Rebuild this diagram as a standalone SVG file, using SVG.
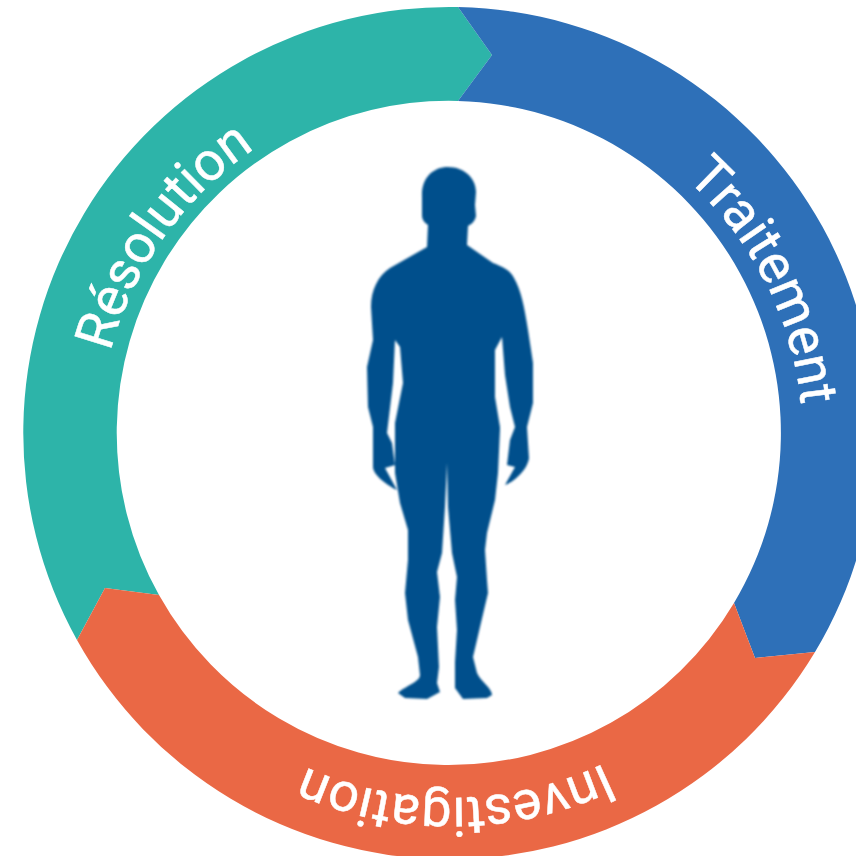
<svg xmlns="http://www.w3.org/2000/svg" width="856" height="856" viewBox="0 0 856 856">
<style>
.lbl{font-family:"Roboto","Liberation Sans",sans-serif;font-size:54px;font-weight:400;fill:#fff;stroke:#fff;stroke-width:.5;text-anchor:middle}
</style>
<defs>
<path id="arc" d="M99 441A352 352 0 0 1 803 441"/>
<path id="arcb" d="M94 441A357 357 0 0 1 808 441"/>
<filter id="soft" x="-5%" y="-5%" width="110%" height="110%"><feGaussianBlur stdDeviation="0.8"/></filter>
</defs>
<rect width="856" height="856" fill="#fff"/>
<g id="resolution">
<path fill="#2db4a9" d="M77 640A426 426 0 0 1 458 7L492 55L458 101A332 332 0 0 0 159 595L105 588Z"/>
<text class="lbl" transform="rotate(-54.6 451 441)"><textPath href="#arc" startOffset="50%">Résolution</textPath></text>
</g>
<g id="traitement">
<path fill="#2e70b8" d="M458 7A426 426 0 0 1 815 652L755 658L734 603A332 332 0 0 0 458 101L492 55Z"/>
<text class="lbl" transform="rotate(63 451 441)"><textPath href="#arc" startOffset="50%">Traitement</textPath></text>
</g>
<g id="investigation">
<path fill="#ea6845" d="M815 652A426 426 0 0 1 77 640L105 588L159 595A332 332 0 0 0 734 603L755 658Z"/>
<text class="lbl" transform="rotate(179.3 451 441)"><textPath href="#arcb" startOffset="50%">Investigation</textPath></text>
</g>
<g id="figure">
<path fill="#03508c" filter="url(#soft)" d="M448 167C464 167 476 178 476 192L475 205L476 216C475 222 470 225 468 226L467 245L493 263C503 267 510 270 514 278C521 290 524 305 528 330L533 363L533 403L527 427L528 443L529 458C528 468 516 481 505 485L515 467L507 465L510 440L515 427L510 407L505 375L502 337L495 350L495 397L500 427L500 430L498 473L495 500L487 533L485 550L487 580L488 593L480 627L473 657L477 673C481 682 492 688 492 695L487 698L463 699L455 688L455 662L457 630L455 600L457 577L452 553L448 507L447 463L445 507L442 553L437 572L440 597L437 627L439 667L437 683L440 692L427 699L405 698L398 693C405 686 420 682 420 675L418 657L408 620L405 593L408 560L408 530L400 503L395 473L395 423L403 383L400 347L395 340L393 383L387 433L392 443L395 465L385 468L397 490C388 486 373 475 373 467L373 427L368 407L367 367L373 340L371 307C371 290 378 276 390 268L427 247L428 225C423 222 422 218 422 215L422 197C421 178 433 167 448 167Z"/>
</g>
</svg>
